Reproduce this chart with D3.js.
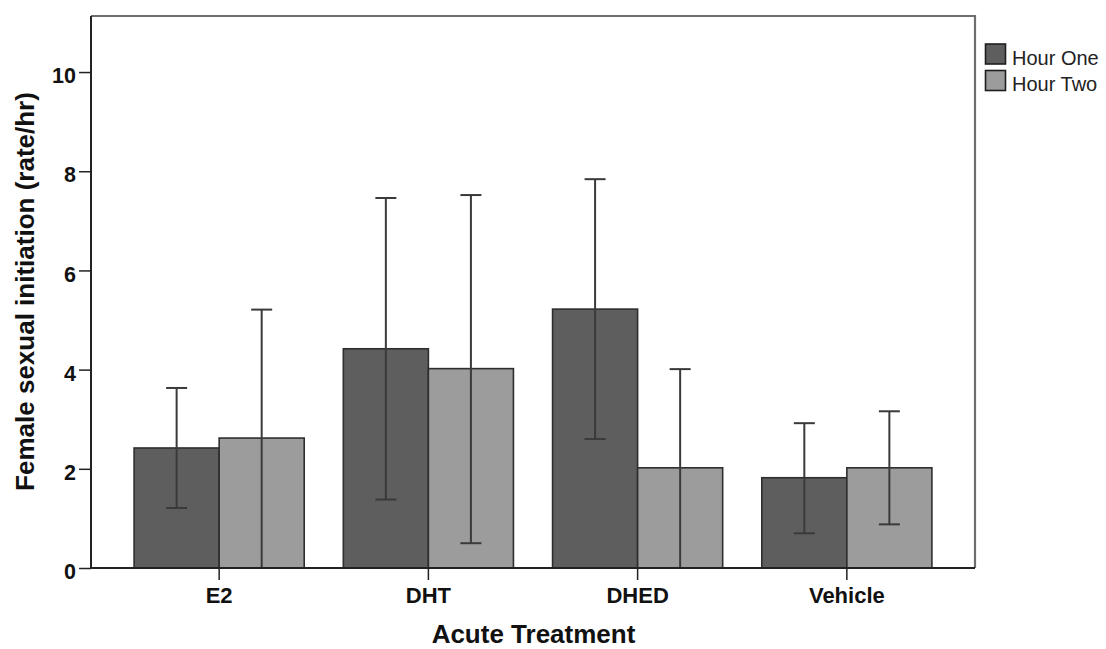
<!DOCTYPE html>
<html>
<head>
<meta charset="utf-8">
<script src="https://cdn.jsdelivr.net/npm/d3@7"></script>
<style>
  html, body { margin: 0; padding: 0; background: #fff; }
  svg { display: block; }
</style>
</head>
<body>
<svg id="chart" width="1106" height="649"></svg>
<script>
const categories = ["E2", "DHT", "DHED", "Vehicle"];
const seriesNames = ["Hour One", "Hour Two"];
const hourOne = [2.42, 4.42, 5.22, 1.82];
const hourTwo = [2.62, 4.02, 2.02, 2.02];
const hourOneLow = [1.21, 1.38, 2.6, 0.7];
const hourOneHigh = [3.63, 7.46, 7.84, 2.92];
const hourTwoLow = [0, 0.5, 0, 0.88];
const hourTwoHigh = [5.21, 7.52, 4.01, 3.16];
const yTicks = [0, 2, 4, 6, 8, 10];
const yTitle = "Female sexual initiation (rate/hr)";
const xTitle = "Acute Treatment";

const fills = ["#5e5e5e", "#9c9c9c"];
const stroke = "#2e2e2e";

const rows = categories.map((c, i) => ({
  cat: c,
  vals: [
    { s: 0, v: hourOne[i], lo: hourOneLow[i], hi: hourOneHigh[i] },
    { s: 1, v: hourTwo[i], lo: hourTwoLow[i], hi: hourTwoHigh[i] }
  ]
}));

const svg = d3.select("#chart");
const L = 91, R = 975, T = 16, B = 568;

const x = d3.scaleBand().domain(categories).range([L, R]).paddingInner(0.187).paddingOuter(0.206);
const xs = d3.scaleBand().domain([0, 1]).range([0, x.bandwidth()]).padding(0);
const y = d3.scaleLinear().domain([0, 11.13]).range([B, T]);

// frame (top and right)
svg.append("path")
  .attr("d", `M${L},${T}H${R}V${B}`)
  .attr("fill", "none").attr("stroke", "#6e6e6e").attr("stroke-width", 2.2);

// bars
const g = svg.append("g");
const groups = g.selectAll("g.grp").data(rows).join("g")
  .attr("transform", d => `translate(${x(d.cat)},0)`);

groups.selectAll("rect").data(d => d.vals).join("rect")
  .attr("x", d => xs(d.s))
  .attr("y", d => y(d.v))
  .attr("width", xs.bandwidth())
  .attr("height", d => y(0) - y(d.v))
  .attr("fill", d => fills[d.s])
  .attr("stroke", stroke)
  .attr("stroke-width", 1.6);

// error bars
const capW = 21;
const eb = groups.selectAll("g.eb").data(d => d.vals).join("g").attr("class", "eb")
  .attr("transform", d => `translate(${xs(d.s) + xs.bandwidth() / 2},0)`);
eb.append("line").attr("x1", 0).attr("x2", 0)
  .attr("y1", d => y(d.lo)).attr("y2", d => y(d.hi))
  .attr("stroke", "#3a3a3a").attr("stroke-width", 2);
eb.append("line").attr("x1", -capW / 2).attr("x2", capW / 2)
  .attr("y1", d => y(d.hi)).attr("y2", d => y(d.hi))
  .attr("stroke", "#3a3a3a").attr("stroke-width", 2);
eb.append("line").attr("x1", -capW / 2).attr("x2", capW / 2)
  .attr("y1", d => y(d.lo)).attr("y2", d => y(d.lo))
  .attr("stroke", "#3a3a3a").attr("stroke-width", 2);

// axes
const font = "'Liberation Sans', Arial, sans-serif";
const yAxis = svg.append("g").attr("transform", `translate(${L},0)`)
  .call(d3.axisLeft(y).tickValues(yTicks).tickFormat(d3.format("d")).tickSize(12).tickPadding(3).tickSizeOuter(0));
yAxis.select(".domain").attr("d", `M0,${T}V${B}`).attr("stroke", "#222").attr("stroke-width", 2);
yAxis.selectAll(".tick line").attr("stroke", "#222").attr("stroke-width", 1.5);
yAxis.selectAll(".tick text")
  .attr("font-family", font).attr("font-weight", "bold").attr("font-size", 21.5)
  .attr("fill", "#111").attr("dy", "0.5em");

const xAxis = svg.append("g").attr("transform", `translate(0,${B})`)
  .call(d3.axisBottom(x).tickSize(12).tickPadding(6).tickSizeOuter(0));
xAxis.select(".domain").attr("d", `M${L},0H${R}`).attr("stroke", "#222").attr("stroke-width", 2);
xAxis.selectAll(".tick line").attr("stroke", "#222").attr("stroke-width", 1.5);
xAxis.selectAll(".tick text")
  .attr("font-family", font).attr("font-weight", "bold").attr("font-size", 22)
  .attr("fill", "#111").attr("y", 0).attr("dy", 0)
  .attr("transform", "translate(0,35)");

// titles
svg.append("text")
  .attr("transform", `translate(34,${291.5}) rotate(-90)`)
  .attr("text-anchor", "middle")
  .attr("font-family", font).attr("font-weight", "bold").attr("font-size", 26)
  .attr("fill", "#111").text(yTitle);

svg.append("text")
  .attr("x", 533.5).attr("y", 643)
  .attr("text-anchor", "middle")
  .attr("font-family", font).attr("font-weight", "bold").attr("font-size", 26)
  .attr("fill", "#111").text(xTitle);

// legend
const lg = svg.append("g").attr("transform", "translate(985,44)");
const li = lg.selectAll("g").data(seriesNames).join("g")
  .attr("transform", (d, i) => `translate(0,${i * 26.5})`);
li.append("rect").attr("x", 0.5).attr("y", 0).attr("width", 20).attr("height", 20)
  .attr("fill", (d, i) => fills[i]).attr("stroke", "#1e1e1e").attr("stroke-width", 1.6);
li.append("text").attr("x", 27).attr("y", 20.5)
  .attr("font-family", font).attr("font-size", 20).attr("fill", "#222")
  .text(d => d);
</script>
</body>
</html>
